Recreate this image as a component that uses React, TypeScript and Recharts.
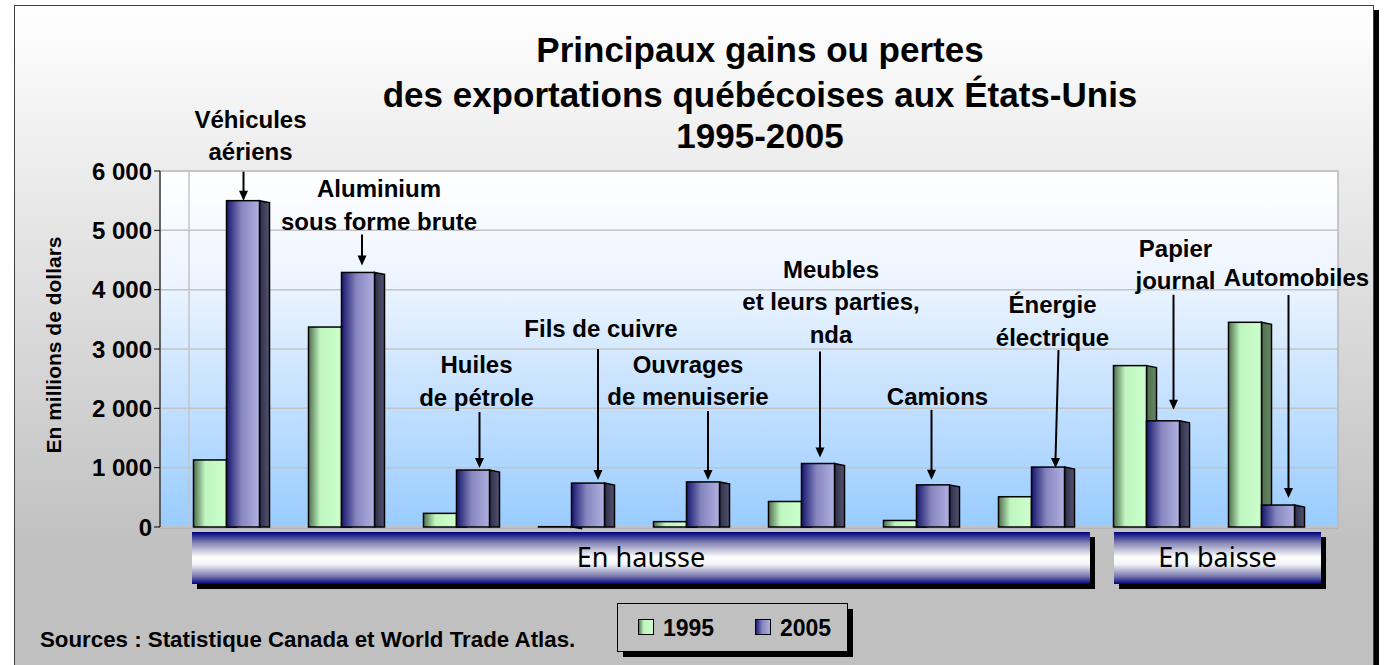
import React from 'react';
import { BarChart, Bar, XAxis, YAxis, CartesianGrid } from 'recharts';

const categories = [
  'Véhicules aériens',
  'Aluminium sous forme brute',
  'Huiles de pétrole',
  'Fils de cuivre',
  'Ouvrages de menuiserie',
  'Meubles et leurs parties, nda',
  'Camions',
  'Énergie électrique',
  'Papier journal',
  'Automobiles',
];
const values1995 = [1130, 3370, 230, 5, 90, 430, 110, 510, 2720, 3450];
const values2005 = [5500, 4290, 960, 740, 760, 1070, 710, 1010, 1790, 370];
const yTicks = [0, 1000, 2000, 3000, 4000, 5000, 6000];
const labelLines = [
  ['Véhicules', 'aériens'],
  ['Aluminium', 'sous forme brute'],
  ['Huiles', 'de pétrole'],
  ['Fils de cuivre'],
  ['Ouvrages', 'de menuiserie'],
  ['Meubles', 'et leurs parties,', 'nda'],
  ['Camions'],
  ['Énergie', 'électrique'],
  ['Papier', 'journal'],
  ['Automobiles'],
];
const titleLines = ['Principaux gains ou pertes', 'des exportations québécoises aux États-Unis', '1995-2005'];
const groups = ['En hausse', 'En baisse'];
const seriesNames = ['1995', '2005'];

// callout placement, relative to the 2005 bar (centre x, top y)
const notes = [
  { tx: 7.5, ty: -73, ax: 0.5, ax2: 0.5, a0: -29, a1: 0 },
  { tx: 21, ty: -75, ax: 4, ax2: 4, a0: -38, a1: -7 },
  { tx: 3.5, ty: -97, ax: 6.5, ax2: 6.5, a0: -58, a1: -2 },
  { tx: 13, ty: -146, ax: 10, ax2: 10, a0: -134, a1: -3 },
  { tx: -15, ty: -109, ax: 5, ax2: 5, a0: -71, a1: -2 },
  { tx: 13, ty: -186, ax: 2, ax2: 2, a0: -112, a1: -6 },
  { tx: 4.5, ty: -80, ax: -1.5, ax2: -1.5, a0: -75, a1: -5 },
  { tx: 4.5, ty: -154, ax: 10.5, ax2: 7.5, a0: -117, a1: 1 },
  { tx: 12.5, ty: -164, ax: 10.5, ax2: 10.5, a0: -126, a1: -11 },
  { tx: 18.5, ty: -219, ax: 10.5, ax2: 10.5, a0: -210, a1: -7 },
];

const data = categories.map((c, i) => ({ name: c, v1995: values1995[i], v2005: values2005[i] }));

const FONT = '"Liberation Sans", Arial, sans-serif';
const DEPTH = 10;

const fmt = (v: number) => String(v).replace(/\B(?=(\d{3})+(?!\d))/g, ' ');

const GreenBar = (props: any) => {
  const { x, y, width, height } = props;
  if (width == null || height == null) return null;
  const base = y + height;
  return (
    <g>
      <polygon
        points={`${x + width},${y} ${x + width + DEPTH},${y + 2} ${x + width + DEPTH},${base} ${x + width},${base}`}
        fill="url(#greenSide)"
        stroke="#000"
        strokeWidth={1.5}
      />
      <rect x={x} y={y} width={width} height={height} fill="url(#greenFront)" stroke="#000" strokeWidth={1.5} />
    </g>
  );
};

const BlueBar = (props: any) => {
  const { x, y, width, height, index } = props;
  if (width == null || height == null) return null;
  const base = y + height;
  const n = notes[index];
  const cx = x + width / 2;
  const lines = labelLines[index];
  const ax0 = cx + n.ax;
  const ax1 = cx + n.ax2;
  const tipY = y + n.a1;
  return (
    <g>
      <polygon
        points={`${x + width},${y} ${x + width + DEPTH},${y + 2} ${x + width + DEPTH},${base} ${x + width},${base}`}
        fill="url(#blueSide)"
        stroke="#000"
        strokeWidth={1.5}
      />
      <rect x={x} y={y} width={width} height={height} fill="url(#blueFront)" stroke="#000" strokeWidth={1.5} />
      <line x1={ax0} y1={y + n.a0} x2={ax1} y2={tipY - 9} stroke="#000" strokeWidth={2} />
      <polygon points={`${ax1 - 4.5},${tipY - 10} ${ax1 + 4.5},${tipY - 10} ${ax1},${tipY}`} fill="#000" />
      {lines.map((t, k) => (
        <text
          key={k}
          x={cx + n.tx}
          y={y + n.ty + k * 32.5}
          textAnchor="middle"
          fontFamily={FONT}
          fontWeight="bold"
          fontSize={24}
          fill="#000"
        >
          {t}
        </text>
      ))}
    </g>
  );
};

const Band = ({ x, w, label }: { x: number; w: number; label: string }) => (
  <g>
    <rect x={x + 5} y={537} width={w} height={52} fill="#000" />
    <rect x={x} y={532} width={w} height={52} fill="url(#bandBg)" />
    <text x={x + w / 2} y={567} textAnchor="middle" fontFamily='"Noto Sans", sans-serif' fontSize={27} fill="#000">
      {label}
    </text>
  </g>
);

export default function App() {
  return (
    <div style={{ position: 'absolute', left: 0, top: 0, width: 1389, height: 665, overflow: 'hidden' }}>
      <svg width={1389} height={665} style={{ position: 'absolute', left: 0, top: 0 }}>
        <defs>
          <linearGradient id="frameBg" x1="0" y1="0" x2="0" y2="1">
            <stop offset="0%" stopColor="#ffffff" />
            <stop offset="80%" stopColor="#c0c0c0" />
            <stop offset="100%" stopColor="#c0c0c0" />
          </linearGradient>
          <linearGradient id="wallBg" x1="0" y1="0" x2="0" y2="1">
            <stop offset="0%" stopColor="#ffffff" />
            <stop offset="30%" stopColor="#eef5ff" />
            <stop offset="100%" stopColor="#99ccff" />
          </linearGradient>
          <linearGradient id="bandBg" x1="0" y1="0" x2="0" y2="1">
            <stop offset="0%" stopColor="#000080" />
            <stop offset="22%" stopColor="#8a8ab8" />
            <stop offset="48%" stopColor="#ffffff" />
            <stop offset="62%" stopColor="#f4f4f8" />
            <stop offset="85%" stopColor="#7a7ab0" />
            <stop offset="100%" stopColor="#000080" />
          </linearGradient>
          <linearGradient id="greenFront" x1="0" y1="0" x2="1" y2="0">
            <stop offset="0%" stopColor="#4e6e4e" />
            <stop offset="35%" stopColor="#bff5bf" />
            <stop offset="100%" stopColor="#ccffcc" />
          </linearGradient>
          <linearGradient id="greenSide" x1="0" y1="0" x2="1" y2="0">
            <stop offset="0%" stopColor="#4f6f4f" />
            <stop offset="100%" stopColor="#668866" />
          </linearGradient>
          <linearGradient id="blueFront" x1="0" y1="0" x2="1" y2="0">
            <stop offset="0%" stopColor="#16166e" />
            <stop offset="45%" stopColor="#8686bf" />
            <stop offset="100%" stopColor="#b0b0e0" />
          </linearGradient>
          <linearGradient id="blueSide" x1="0" y1="0" x2="1" y2="0">
            <stop offset="0%" stopColor="#2c2c4c" />
            <stop offset="100%" stopColor="#55556e" />
          </linearGradient>
        </defs>

        {/* frame */}
        <rect x={1374} y={10} width={5} height={660} fill="#000" />
        <rect x={14.5} y={5.5} width={1359} height={680} fill="url(#frameBg)" stroke="#404040" strokeWidth={1} />

        {titleLines.map((t, i) => (
          <text key={i} x={760} y={[62, 107, 148][i]} textAnchor="middle" fontFamily={FONT} fontWeight="bold" fontSize={35} fill="#000">
            {t}
          </text>
        ))}

        <text
          x={0}
          y={0}
          transform="translate(61,345) rotate(-90)"
          textAnchor="middle"
          fontFamily={FONT}
          fontWeight="bold"
          fontSize={21}
          fill="#000"
        >
          En millions de dollars
        </text>

        {/* back wall */}
        <rect x={160} y={171} width={1178} height={356} fill="url(#wallBg)" stroke="#b8b8b8" strokeWidth={1.5} />
        <line x1={189} y1={171} x2={189} y2={527} stroke="#c4c4c4" strokeWidth={1.5} />
        <line x1={160} y1={528} x2={1338} y2={528} stroke="#b4b4b4" strokeWidth={2} />

        <Band x={192} w={898} label={groups[0]} />
        <Band x={1114} w={207} label={groups[1]} />

        <text x={40} y={647} fontFamily={FONT} fontWeight="bold" fontSize={22.3} fill="#000">
          Sources : Statistique Canada et World Trade Atlas.
        </text>

        {/* legend */}
        <rect x={623} y={609} width={230} height={48} fill="#000" />
        <rect x={617.5} y={603.5} width={230} height={48} fill="#c0c0c0" stroke="#000" strokeWidth={1} />
        <rect x={638.5} y={619.5} width={15} height={15} fill="url(#greenFront)" stroke="#000" strokeWidth={1} />
        <text x={663} y={636} fontFamily={FONT} fontWeight="bold" fontSize={23} fill="#000">{seriesNames[0]}</text>
        <rect x={755.5} y={619.5} width={15} height={15} fill="url(#blueFront)" stroke="#000" strokeWidth={1} />
        <text x={780} y={636} fontFamily={FONT} fontWeight="bold" fontSize={23} fill="#000">{seriesNames[1]}</text>
      </svg>

      <div style={{ position: 'absolute', left: 0, top: 0 }}>
        <BarChart
          width={1389}
          height={665}
          data={data}
          margin={{ top: 171, right: 51, bottom: 138, left: 0 }}
          barSize={33}
          barGap={0}
        >
          <CartesianGrid horizontal vertical={false} stroke="#c4c4c4" strokeWidth={1.5} />
          <XAxis dataKey="name" hide padding={{ left: 8.5, right: 19.5 }} />
          <YAxis
            width={160}
            domain={[0, 6000]}
            ticks={yTicks}
            interval={0}
            tickFormatter={fmt}
            axisLine={{ stroke: '#000', strokeWidth: 1 }}
            tickLine={{ stroke: '#000' }}
            tickSize={6}
            tickMargin={2}
            tick={{ fontFamily: FONT, fontWeight: 'bold', fontSize: 24, fill: '#000' }}
          />
          <Bar dataKey="v1995" name="1995" shape={GreenBar} isAnimationActive={false} />
          <Bar dataKey="v2005" name="2005" shape={BlueBar} isAnimationActive={false} />
        </BarChart>
      </div>
    </div>
  );
}
